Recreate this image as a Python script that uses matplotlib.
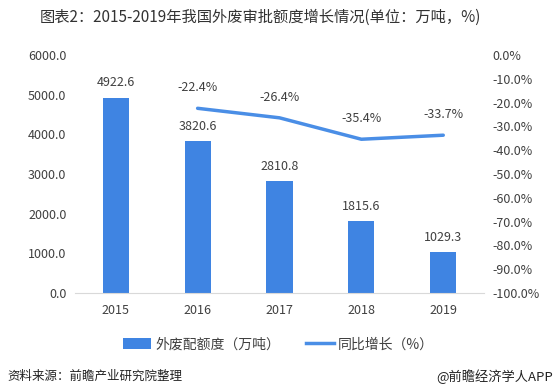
import matplotlib
matplotlib.use("Agg")
import matplotlib.pyplot as plt
import numpy as np
from matplotlib.patches import Patch
from matplotlib.lines import Line2D

plt.rcParams['font.family'] = ['Noto Sans CJK SC', 'DejaVu Sans']

years = ['2015', '2016', '2017', '2018', '2019']
quota = [4922.6, 3820.6, 2810.8, 1815.6, 1029.3]
growth_years = ['2016', '2017', '2018', '2019']
growth = [-22.4, -26.4, -35.4, -33.7]

bar_color = '#3f84e2'
line_color = '#4a8ee6'
text_color = '#404040'

fig = plt.figure(figsize=(5.54, 3.92), dpi=100)
ax = fig.add_axes([0.135, 0.2526, 0.739, 0.6071])
x = np.arange(len(years))
ax.bar(x, quota, width=0.32, color=bar_color, zorder=2)
for xi, v in zip(x, quota):
    ax.annotate(f'{v:.1f}', (xi, v), xytext=(0, 6), textcoords='offset points',
                ha='center', va='bottom', fontsize=9, color=text_color)
ax.set_ylim(0, 6000)
ax.set_yticks(np.arange(0, 6001, 1000))
ax.set_yticklabels([f'{t:.1f}' for t in np.arange(0, 6001, 1000)])
ax.set_xlim(-0.5, len(years) - 0.5)
ax.set_xticks(x)
ax.set_xticklabels(years)
for s in ['top', 'right', 'left']:
    ax.spines[s].set_visible(False)
ax.spines['bottom'].set_color('#d9d9d9')
ax.tick_params(axis='both', length=0, labelsize=9, colors=text_color)
ax.tick_params(axis='x', pad=8)
ax.tick_params(axis='y', pad=6)

ax2 = ax.twinx()
gx = [years.index(y) for y in growth_years]
ax2.plot(gx, growth, color=line_color, lw=2.5, solid_capstyle='round', zorder=3)
for xi, v in zip(gx, growth):
    ax2.annotate(f'{v:.1f}%', (xi, v), xytext=(0, 10), textcoords='offset points',
                 ha='center', va='bottom', fontsize=9, color=text_color)
ax2.set_ylim(-100, 0)
ax2.set_yticks(np.arange(-100, 1, 10))
ax2.set_yticklabels([f'{t:.1f}%' for t in np.arange(-100, 1, 10)])
for s in ['top', 'right', 'left', 'bottom']:
    ax2.spines[s].set_visible(False)
ax2.tick_params(axis='y', length=0, labelsize=9, colors=text_color, pad=6)

fig.text(0.47, 0.955, '图表2：2015-2019年我国外废审批额度增长情况(单位：万吨，%)',
         ha='center', va='center', fontsize=11, color='#333333')

handles = [Patch(facecolor=bar_color, edgecolor='none'),
           Line2D([0], [0], color=line_color, lw=2.5)]
fig.legend(handles, ['外废配额度（万吨）', '同比增长（%）'], loc='center',
           bbox_to_anchor=(0.503, 0.122), ncol=2, frameon=False, fontsize=10,
           labelcolor=text_color, handlelength=2.0, handleheight=0.9,
           columnspacing=1.9, handletextpad=0.3)

fig.text(0.014, 0.04, '资料来源：前瞻产业研究院整理', ha='left', va='center',
         fontsize=9, color='#222222', style='italic')
fig.text(0.998, 0.04, '@前瞻经济学人APP', ha='right', va='center',
         fontsize=9.5, color='#222222')

fig.savefig('out.png', dpi=100)
